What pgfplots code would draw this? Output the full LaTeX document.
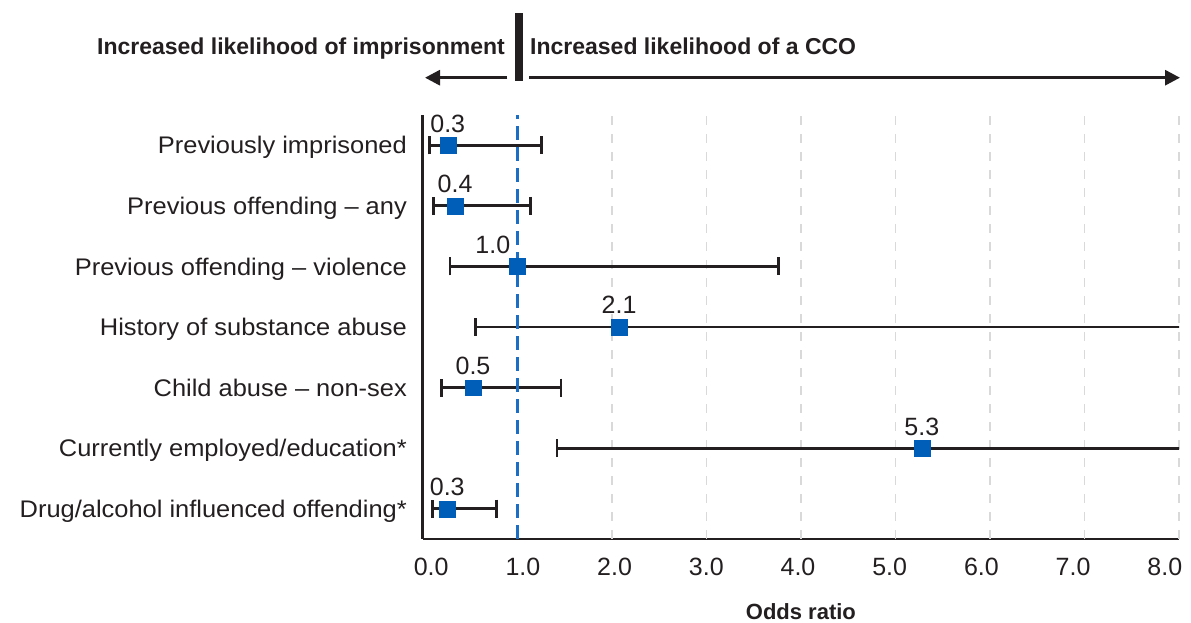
\documentclass[border=0pt]{standalone}
\usepackage{fontspec}
\setmainfont{Liberation Sans}
\newfontfamily\labfont[FakeStretch=1.06]{Liberation Sans}
\usepackage{pgfplots}
\pgfplotsset{compat=1.18}
\usepackage{pgfplotstable}
\usetikzlibrary{arrows.meta}
\definecolor{ink}{HTML}{231F20}
\definecolor{mblue}{HTML}{005EB8}
\definecolor{dblue}{HTML}{1C6DC4}
\definecolor{gridc}{HTML}{D9D9D9}

\pgfplotstableread{
y x lo hi lab sh
7 0.265 0.07 1.26 0.3 0
6 0.342 0.112 1.143 0.4 0
5 0.998 0.289 3.763 1.0 -24.2
4 2.077 0.561 9.0 2.1 0
3 0.532 0.201 1.463 0.5 0
2 5.28 1.42 9.0 5.3 0
1 0.26 0.10 0.78 0.3 0
}\data

\begin{document}
\begin{tikzpicture}
\begin{axis}[
  at={(0,0)}, anchor=south west,
  width=756.3pt, height=424pt, scale only axis,
  xmin=0, xmax=8, ymin=0.5, ymax=7.5,
  axis lines*=left,
  axis line style={ink, line width=2.5pt},
  major tick length=0pt,
  xtick={0.09,1.06,2.03,3.0,3.97,4.94,5.91,6.88,7.85},
  xticklabels={0.0,1.0,2.0,3.0,4.0,5.0,6.0,7.0,8.0},
  extra x ticks={2,3,4,5,6,7,8},
  extra x tick labels={},
  extra x tick style={grid=major, major grid style={gridc, line width=1.5pt, dash pattern=on 9pt off 9pt}},
  xticklabel style={font=\fontsize{25}{25}\selectfont, text=ink, anchor=base, inner sep=0pt, yshift=-36.7pt},
  ytick={1,...,7},
  yticklabels={Drug/alcohol influenced offending*, Currently employed/education*, Child abuse – non-sex, History of substance abuse, Previous offending – violence, Previous offending – any, Previously imprisoned},
  yticklabel style={font=\labfont\fontsize{24}{24}\selectfont, text=ink, anchor=base east, inner sep=0pt, xshift=-15.7pt, yshift=-8.6pt},
]
% confidence intervals
\addplot[draw=none, mark=none,
  error bars/.cd, x dir=both, x explicit,
  error bar style={ink, line width=2.8pt},
  error mark options={ink, line width=2.8pt, mark size=9pt, rotate=90}]
  table[x=x, y=y, x error plus expr=\thisrow{hi}-\thisrow{x}, x error minus expr=\thisrow{x}-\thisrow{lo}] {\data};
% reference line at OR = 1
\addplot[dblue, line width=3pt, dash pattern=on 14pt off 7pt] coordinates {(1,0.5) (1,7.5)};
% point estimates
\addplot[only marks, mark=square*, mark size=7.9pt,
  mark options={fill=mblue, draw=mblue, line width=0.1pt, solid},
  point meta=explicit symbolic,
  visualization depends on={\thisrow{sh} \as \sh},
  nodes near coords,
  every node near coord/.append style={font=\fontsize{25}{25}\selectfont, text=ink, anchor=base, inner sep=0pt, yshift=13pt, xshift=\sh pt}]
  table[x=x, y=y, meta=lab] {\data};
\end{axis}
% top annotation
\fill[ink] (91.8pt,458.3pt) rectangle (99.8pt,526.3pt);
\draw[ink, line width=3pt, -{Triangle[length=15pt, width=15pt]}] (84.6pt,461.3pt) -- (2.3pt,461.3pt);
\draw[ink, line width=3pt, -{Triangle[length=15pt, width=15pt]}] (106.6pt,461.3pt) -- (757.3pt,461.3pt);
\node[anchor=base east, inner sep=0pt, text=ink, font=\fontsize{23}{23}\selectfont\bfseries] at (82.3pt,484pt) {Increased likelihood of imprisonment};
\node[anchor=base west, inner sep=0pt, text=ink, font=\fontsize{23}{23}\selectfont\bfseries] at (107.3pt,484.5pt) {Increased likelihood of a CCO};
\node[anchor=base, inner sep=0pt, text=ink, font=\fontsize{22}{22}\selectfont\bfseries] at (378.2pt,-81pt) {Odds ratio};
\pgfresetboundingbox
\path[use as bounding box] (-422.7pt,-84pt) rectangle (768.3pt,539pt);
\end{tikzpicture}
\end{document}
